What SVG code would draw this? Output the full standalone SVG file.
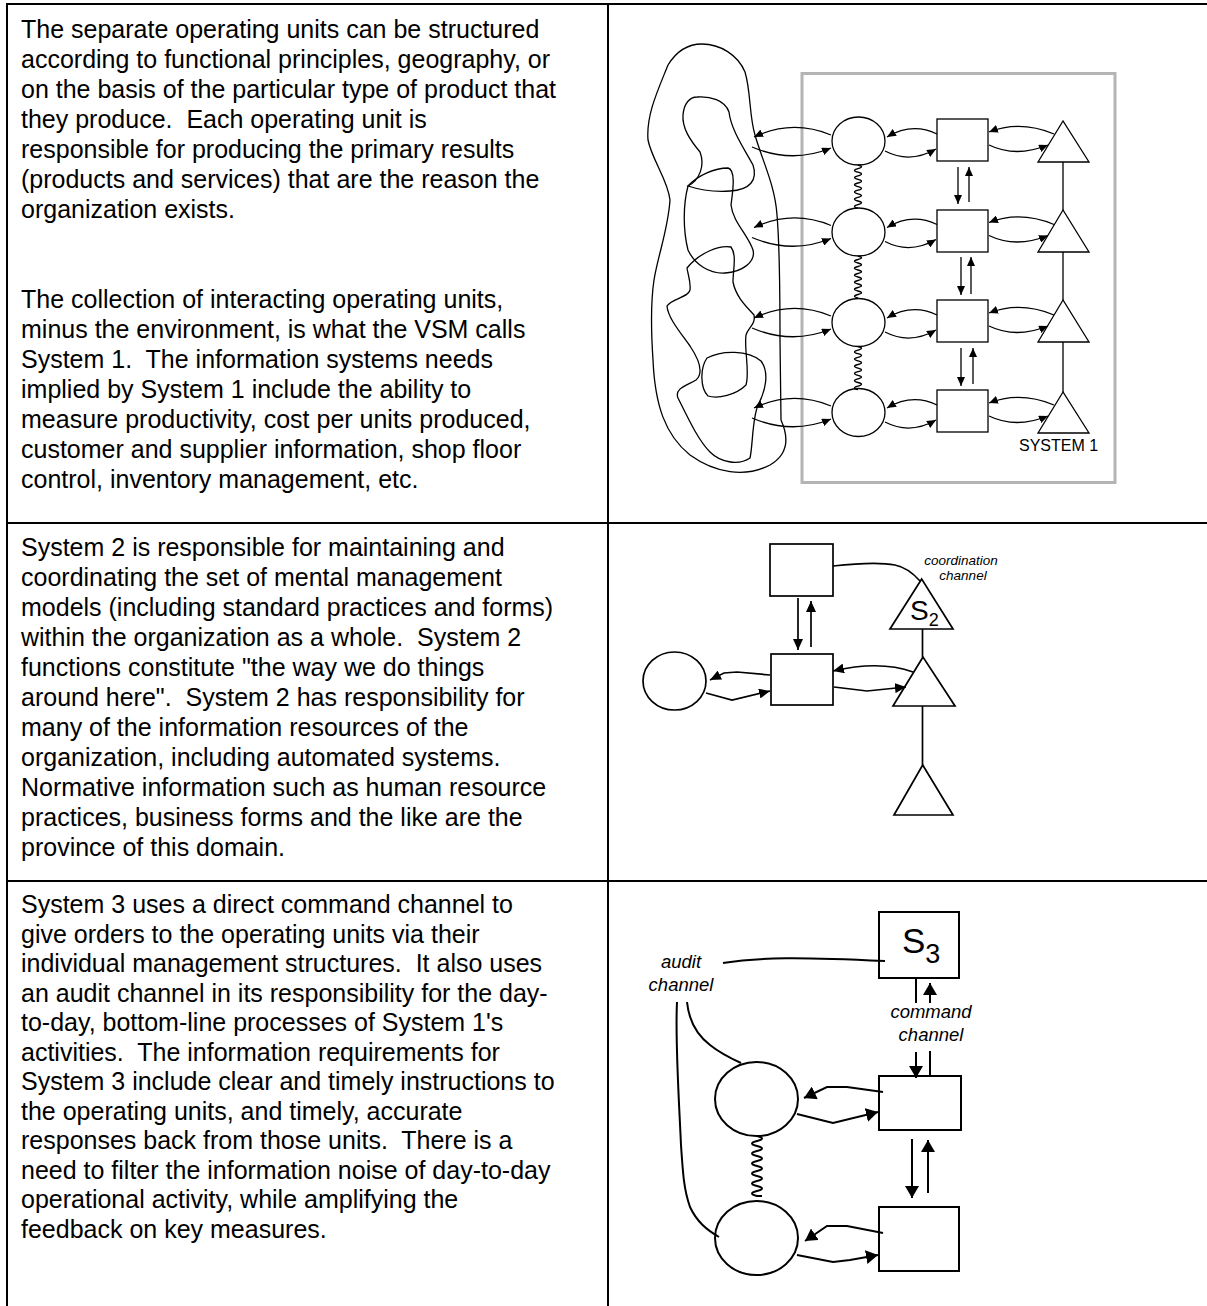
<svg xmlns="http://www.w3.org/2000/svg" width="1207" height="1306" viewBox="0 0 1207 1306">
<style>
.t{font-family:"Liberation Sans",Arial,sans-serif;font-size:25px;fill:#000;white-space:pre}
.it{font-family:"Liberation Sans",Arial,sans-serif;font-style:italic;fill:#000}
.lab{font-family:"Liberation Sans",Arial,sans-serif;fill:#000}
.grid{stroke:#000;stroke-width:2;fill:none}
.s1{fill:none;stroke:#000;stroke-width:1.3}
.s2{fill:none;stroke:#000;stroke-width:1.7}
.s3{fill:none;stroke:#000;stroke-width:2}
.f1{fill:#fff;stroke:#000;stroke-width:1.3}
.f2{fill:#fff;stroke:#000;stroke-width:1.7}
.f3{fill:#fff;stroke:#000;stroke-width:2}
</style>
<defs>
<marker id="a1" markerWidth="10" markerHeight="8" refX="9" refY="4" orient="auto" markerUnits="userSpaceOnUse"><path d="M0,0 L9,4 L0,8 Z" fill="#000"/></marker>
<marker id="a2" markerWidth="12" markerHeight="10" refX="11" refY="5" orient="auto" markerUnits="userSpaceOnUse"><path d="M0,0 L11,5 L0,10 Z" fill="#000"/></marker>
<marker id="a3" markerWidth="13" markerHeight="14" refX="12" refY="7" orient="auto" markerUnits="userSpaceOnUse"><path d="M0,0 L12,7 L0,14 Z" fill="#000"/></marker>
</defs>

<g id="table">
<line class="grid" x1="6" y1="4" x2="1207" y2="4" stroke-width="2.5"/>
<line class="grid" x1="7" y1="3" x2="7" y2="1306"/>
<line class="grid" x1="608" y1="3" x2="608" y2="1306"/>
<line class="grid" x1="6" y1="523" x2="1207" y2="523"/>
<line class="grid" x1="6" y1="881" x2="1207" y2="881"/>
</g>

<g id="text-row1">
<text class="t" xml:space="preserve" x="21" y="38"><tspan x="21" y="38">The separate operating units can be structured</tspan><tspan x="21" dy="30">according to functional principles, geography, or</tspan><tspan x="21" dy="30">on the basis of the particular type of product that</tspan><tspan x="21" dy="30">they produce.  Each operating unit is</tspan><tspan x="21" dy="30">responsible for producing the primary results</tspan><tspan x="21" dy="30">(products and services) that are the reason the</tspan><tspan x="21" dy="30">organization exists.</tspan></text>
<text class="t" xml:space="preserve" x="21" y="308"><tspan x="21" y="308">The collection of interacting operating units,</tspan><tspan x="21" dy="30">minus the environment, is what the VSM calls</tspan><tspan x="21" dy="30">System 1.  The information systems needs</tspan><tspan x="21" dy="30">implied by System 1 include the ability to</tspan><tspan x="21" dy="30">measure productivity, cost per units produced,</tspan><tspan x="21" dy="30">customer and supplier information, shop floor</tspan><tspan x="21" dy="30">control, inventory management, etc.</tspan></text>
</g>
<g id="text-row2">
<text class="t" xml:space="preserve" x="21" y="556"><tspan x="21" y="556">System 2 is responsible for maintaining and</tspan><tspan x="21" dy="30">coordinating the set of mental management</tspan><tspan x="21" dy="30">models (including standard practices and forms)</tspan><tspan x="21" dy="30">within the organization as a whole.  System 2</tspan><tspan x="21" dy="30">functions constitute "the way we do things</tspan><tspan x="21" dy="30">around here".  System 2 has responsibility for</tspan><tspan x="21" dy="30">many of the information resources of the</tspan><tspan x="21" dy="30">organization, including automated systems.</tspan><tspan x="21" dy="30">Normative information such as human resource</tspan><tspan x="21" dy="30">practices, business forms and the like are the</tspan><tspan x="21" dy="30">province of this domain.</tspan></text>
</g>
<g id="text-row3">
<text class="t" xml:space="preserve" x="21" y="913"><tspan x="21" y="913">System 3 uses a direct command channel to</tspan><tspan x="21" dy="29.5">give orders to the operating units via their</tspan><tspan x="21" dy="29.5">individual management structures.  It also uses</tspan><tspan x="21" dy="29.5">an audit channel in its responsibility for the day-</tspan><tspan x="21" dy="29.5">to-day, bottom-line processes of System 1's</tspan><tspan x="21" dy="29.5">activities.  The information requirements for</tspan><tspan x="21" dy="29.5">System 3 include clear and timely instructions to</tspan><tspan x="21" dy="29.5">the operating units, and timely, accurate</tspan><tspan x="21" dy="29.5">responses back from those units.  There is a</tspan><tspan x="21" dy="29.5">need to filter the information noise of day-to-day</tspan><tspan x="21" dy="29.5">operational activity, while amplifying the</tspan><tspan x="21" dy="29.5">feedback on key measures.</tspan></text>
</g>

<!-- SYSTEM 1 diagram -->
<g id="s1-boundary">
<rect x="802" y="73.5" width="313" height="409" fill="none" stroke="#b4b4b4" stroke-width="3"/>
<text class="lab" x="1019" y="451" font-size="16">SYSTEM 1</text>
</g>
<g id="s1-environment" class="s1">
<path d="M702,44 C720,44 738,55 745,72 C751,92 749,115 755,135 C762,160 775,185 777,215 C780,250 780,300 780,340 L781,420 C790,440 787,455 770,465 C745,478 715,473 690,455 C665,435 655,405 653,360 C651,330 651,300 654,280 C658,255 668,230 670,200 C668,180 652,160 648,140 C646,115 658,90 668,65 C676,52 688,44 702,44 Z"/>
<path d="M697,97 C710,96 725,100 729,112 C731,130 745,150 753,165 C758,180 750,190 730,191 C715,192 700,190 688,186 C700,180 705,165 700,152 C690,140 682,128 683,115 C684,103 690,97 697,97 Z"/>
<path d="M688,186 C698,175 715,168 728,168 C736,170 733,190 731,205 C733,222 748,235 753,250 C756,262 742,272 725,273 C710,274 695,265 688,250 C683,230 683,205 688,186 Z"/>
<path d="M687,268 C700,252 720,245 731,247 C737,255 733,270 733,282 C736,297 746,306 754,315 C756,324 748,328 746,335 C744,350 750,372 746,385 C736,395 718,399 708,396 C700,388 700,368 707,358 C722,350 748,350 761,361 C770,373 765,392 758,405 C752,420 753,445 750,458 C738,466 720,462 710,452 C698,440 688,418 678,398 C674,388 688,385 696,380 C705,372 698,358 690,346 C680,332 668,318 667,306 C672,298 688,298 690,290 C691,282 688,275 687,268 Z"/>
</g>
<g id="s1-unit1"><ellipse class="f1" cx="858.5" cy="141" rx="26.5" ry="24"/></g>
<g id="s1-unit2"><ellipse class="f1" cx="858.5" cy="232" rx="26.5" ry="24"/></g>
<g id="s1-unit3"><ellipse class="f1" cx="858.5" cy="322.5" rx="26.5" ry="24"/></g>
<g id="s1-unit4"><ellipse class="f1" cx="858.5" cy="412.5" rx="26.5" ry="24"/></g>
<g id="s1-mgmt1"><rect class="f1" x="937" y="119" width="51" height="42"/></g>
<g id="s1-mgmt2"><rect class="f1" x="937" y="210" width="51" height="42"/></g>
<g id="s1-mgmt3"><rect class="f1" x="937" y="300" width="51" height="42"/></g>
<g id="s1-mgmt4"><rect class="f1" x="937" y="390" width="51" height="42"/></g>
<g id="s1-meta1"><polygon class="f1" points="1063,121 1038,162 1089,162"/></g>
<g id="s1-meta2"><polygon class="f1" points="1063,210 1038,252 1089,252"/></g>
<g id="s1-meta3"><polygon class="f1" points="1063,300 1038,342 1089,342"/></g>
<g id="s1-meta4"><polygon class="f1" points="1063,392 1038,433 1089,433"/></g>

<g id="s1-connectors" class="s1">
<g id="s1-row1">
<path d="M831,135 Q792,119 754,137" marker-end="url(#a1)"/>
<path d="M752,147 Q792,164 831,148" marker-end="url(#a1)"/>
<path d="M937,134 Q912,122 887,137" marker-end="url(#a1)"/>
<path d="M885,151 Q910,164 936,149" marker-end="url(#a1)"/>
<path d="M1054,134 Q1020,120 989,132" marker-end="url(#a1)"/>
<path d="M989,145 Q1016,158 1048,145" marker-end="url(#a1)"/>
</g>
<g id="s1-row2" transform="translate(0,90.5)">
<path d="M831,135 Q792,119 754,137" marker-end="url(#a1)"/>
<path d="M752,147 Q792,164 831,148" marker-end="url(#a1)"/>
<path d="M937,134 Q912,122 887,137" marker-end="url(#a1)"/>
<path d="M885,151 Q910,164 936,149" marker-end="url(#a1)"/>
<path d="M1054,134 Q1020,120 989,132" marker-end="url(#a1)"/>
<path d="M989,145 Q1016,158 1048,145" marker-end="url(#a1)"/>
</g>
<g id="s1-row3" transform="translate(0,181)">
<path d="M831,135 Q792,119 754,137" marker-end="url(#a1)"/>
<path d="M752,147 Q792,164 831,148" marker-end="url(#a1)"/>
<path d="M937,134 Q912,122 887,137" marker-end="url(#a1)"/>
<path d="M885,151 Q910,164 936,149" marker-end="url(#a1)"/>
<path d="M1054,134 Q1020,120 989,132" marker-end="url(#a1)"/>
<path d="M989,145 Q1016,158 1048,145" marker-end="url(#a1)"/>
</g>
<g id="s1-row4" transform="translate(0,271)">
<path d="M831,135 Q792,119 754,137" marker-end="url(#a1)"/>
<path d="M752,147 Q792,164 831,148" marker-end="url(#a1)"/>
<path d="M937,134 Q912,122 887,137" marker-end="url(#a1)"/>
<path d="M885,151 Q910,164 936,149" marker-end="url(#a1)"/>
<path d="M1054,134 Q1020,120 989,132" marker-end="url(#a1)"/>
<path d="M989,145 Q1016,158 1048,145" marker-end="url(#a1)"/>
</g>
<path d="M958,167 L958,204" marker-end="url(#a1)"/>
<path d="M969,202 L969,167" marker-end="url(#a1)"/>
<path d="M961,257 L961,295" marker-end="url(#a1)"/>
<path d="M971,294 L971,257" marker-end="url(#a1)"/>
<path d="M961,348 L961,386" marker-end="url(#a1)"/>
<path d="M973,384 L973,348" marker-end="url(#a1)"/>
<path d="M1063,162 L1063,210 M1063,252 L1063,300 M1063,342 L1063,392"/>
<path d="M858,165 q7,1.8 0,3.6 t0,3.6 t0,3.6 t0,3.6 t0,3.6 t0,3.6 t0,3.6 t0,3.6 t0,3.6 t0,3.6 t0,3.6 t0,3.6"/>
<path d="M858,256 q7,1.75 0,3.5 t0,3.5 t0,3.5 t0,3.5 t0,3.5 t0,3.5 t0,3.5 t0,3.5 t0,3.5 t0,3.5 t0,3.5 t0,3.5"/>
<path d="M858,346.5 q7,1.8 0,3.6 t0,3.6 t0,3.6 t0,3.6 t0,3.6 t0,3.6 t0,3.6 t0,3.6 t0,3.6 t0,3.6 t0,3.6 t0,3.6"/>
</g>

<!-- SYSTEM 2 diagram -->
<g id="s2-top-mgmt"><rect class="f2" x="770" y="544" width="63" height="52"/></g>
<g id="s2-mgmt"><rect class="f2" x="771" y="654" width="62" height="51"/></g>
<g id="s2-unit"><ellipse class="f2" cx="674.5" cy="681" rx="31.5" ry="29"/></g>
<g id="s2-coord">
<polygon class="f2" points="921.7,579 890,629 953,629"/>
<text class="lab" x="910" y="620" font-size="28">S<tspan font-size="18" dy="6">2</tspan></text>
</g>
<g id="s2-meta"><polygon class="f2" points="923,657 893,706 955,706"/></g>
<g id="s2-meta-lower"><polygon class="f2" points="922.7,765 894,815 953,815"/></g>
<g id="s2-label">
<text class="it" x="961" y="565" font-size="13.5" text-anchor="middle">coordination</text>
<text class="it" x="963" y="580" font-size="13.5" text-anchor="middle">channel</text>
</g>
<g id="s2-connectors" class="s2">
<path d="M833,566 C860,563 880,562 895,565 C905,567 912,572 920,581"/>
<path d="M798,598 L798,650" marker-end="url(#a2)"/>
<path d="M811,647 L811,601" marker-end="url(#a2)"/>
<path d="M770,675 L737,672 L724,673 L710,680" marker-end="url(#a2)"/>
<path d="M706,693 L732,700 L770,691" marker-end="url(#a2)"/>
<path d="M913,672 Q880,660 833,671" marker-end="url(#a2)"/>
<path d="M834,687 L867,691 L906,687" marker-end="url(#a2)"/>
<path d="M922.5,629 L922.5,657 M922.5,706 L922.5,765"/>
</g>

<!-- SYSTEM 3 diagram -->
<g id="s3-control">
<rect class="f3" x="879" y="912" width="80" height="66"/>
<text class="lab" x="902" y="953" font-size="35">S<tspan font-size="27" dy="10">3</tspan></text>
</g>
<g id="s3-mgmt1"><rect class="f3" x="879" y="1076" width="82" height="54"/></g>
<g id="s3-mgmt2"><rect class="f3" x="879" y="1207" width="80" height="64"/></g>
<g id="s3-unit1"><ellipse class="f3" cx="756.5" cy="1099" rx="41.5" ry="37"/></g>
<g id="s3-unit2"><ellipse class="f3" cx="756.5" cy="1238" rx="41.5" ry="37"/></g>
<g id="s3-labels">
<text class="it" x="681" y="968" font-size="18.5" text-anchor="middle">audit</text>
<text class="it" x="681" y="991" font-size="18.5" text-anchor="middle">channel</text>
<text class="it" x="931" y="1018" font-size="18.5" text-anchor="middle">command</text>
<text class="it" x="931" y="1041" font-size="18.5" text-anchor="middle">channel</text>
</g>
<g id="s3-connectors" class="s3">
<path d="M723,963 C760,957 800,957 885,961"/>
<path d="M677,1002 C675,1040 679,1100 681,1145 C683,1175 684,1190 690,1207 C697,1222 707,1230 719,1237"/>
<path d="M687,1002 C689,1022 697,1035 710,1045 C720,1053 730,1058 741,1063"/>
<path d="M916,978 L916,1003"/>
<path d="M916,1052 L916,1078" marker-end="url(#a3)"/>
<path d="M930,1077 L930,1051"/>
<path d="M930,1003 L930,983" marker-end="url(#a3)"/>
<path d="M883,1092 L847,1087 L827,1087 L804,1098" marker-end="url(#a3)"/>
<path d="M797,1114 L833,1123 L878,1112" marker-end="url(#a3)"/>
<path d="M883,1233 L847,1226 L827,1226 L805,1241" marker-end="url(#a3)"/>
<path d="M797,1255 L833,1262 L850,1260 L878,1255" marker-end="url(#a3)"/>
<path d="M912,1139 L912,1198" marker-end="url(#a3)"/>
<path d="M928,1193 L928,1140" marker-end="url(#a3)"/>
<path d="M757,1136 q10,2.5 0,5 t0,5 t0,5 t0,5 t0,5 t0,5 t0,5 t0,5 t0,5 t0,5 t0,5 t0,5 h5"/>
</g>
</svg>
